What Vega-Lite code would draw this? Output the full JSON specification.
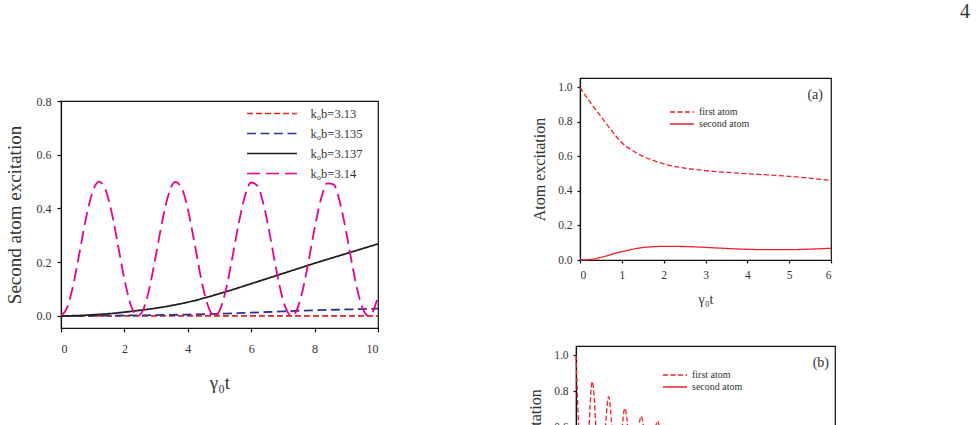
{
  "$schema": "https://vega.github.io/schema/vega-lite/v6.json",
  "autosize": {"type": "none"},
  "padding": {"left": 61, "top": 78, "right": 915, "bottom": 347},
  "title": {"text": "4", "anchor": "end", "frame": "group", "fontSize": 20, "dx": 909, "offset": 55, "color": "#333"},
  "datasets": {
    "second_atom": [
      {"series": "k₀b=3.13", "t": 0, "v": 0},
      {"series": "k₀b=3.13", "t": 2, "v": 0},
      {"series": "k₀b=3.13", "t": 4, "v": 0},
      {"series": "k₀b=3.13", "t": 6, "v": 0},
      {"series": "k₀b=3.13", "t": 8, "v": 0},
      {"series": "k₀b=3.13", "t": 10, "v": 0.0005},
      {"series": "k₀b=3.135", "t": 0, "v": 0},
      {"series": "k₀b=3.135", "t": 1, "v": 0.0005},
      {"series": "k₀b=3.135", "t": 2, "v": 0.0015},
      {"series": "k₀b=3.135", "t": 3, "v": 0.003},
      {"series": "k₀b=3.135", "t": 4, "v": 0.005},
      {"series": "k₀b=3.135", "t": 5, "v": 0.008},
      {"series": "k₀b=3.135", "t": 6, "v": 0.012},
      {"series": "k₀b=3.135", "t": 7, "v": 0.017},
      {"series": "k₀b=3.135", "t": 8, "v": 0.021},
      {"series": "k₀b=3.135", "t": 9, "v": 0.024},
      {"series": "k₀b=3.135", "t": 10, "v": 0.027},
      {"series": "k₀b=3.137", "t": 0, "v": 0},
      {"series": "k₀b=3.137", "t": 0.5, "v": 0.001},
      {"series": "k₀b=3.137", "t": 1, "v": 0.004},
      {"series": "k₀b=3.137", "t": 1.5, "v": 0.008},
      {"series": "k₀b=3.137", "t": 2, "v": 0.014},
      {"series": "k₀b=3.137", "t": 2.5, "v": 0.021},
      {"series": "k₀b=3.137", "t": 3, "v": 0.029},
      {"series": "k₀b=3.137", "t": 3.5, "v": 0.039},
      {"series": "k₀b=3.137", "t": 4, "v": 0.051},
      {"series": "k₀b=3.137", "t": 4.5, "v": 0.066},
      {"series": "k₀b=3.137", "t": 5, "v": 0.083},
      {"series": "k₀b=3.137", "t": 5.5, "v": 0.101},
      {"series": "k₀b=3.137", "t": 6, "v": 0.12},
      {"series": "k₀b=3.137", "t": 6.5, "v": 0.139},
      {"series": "k₀b=3.137", "t": 7, "v": 0.158},
      {"series": "k₀b=3.137", "t": 7.5, "v": 0.177},
      {"series": "k₀b=3.137", "t": 8, "v": 0.196},
      {"series": "k₀b=3.137", "t": 8.5, "v": 0.214},
      {"series": "k₀b=3.137", "t": 9, "v": 0.232},
      {"series": "k₀b=3.137", "t": 9.5, "v": 0.25},
      {"series": "k₀b=3.137", "t": 10, "v": 0.268},
      {"series": "k₀b=3.14", "t": 0, "v": 0},
      {"series": "k₀b=3.14", "t": 0.2, "v": 0.0328},
      {"series": "k₀b=3.14", "t": 0.4, "v": 0.1227},
      {"series": "k₀b=3.14", "t": 0.6, "v": 0.246},
      {"series": "k₀b=3.14", "t": 0.8, "v": 0.3704},
      {"series": "k₀b=3.14", "t": 1.0, "v": 0.4631},
      {"series": "k₀b=3.14", "t": 1.2, "v": 0.4998},
      {"series": "k₀b=3.14", "t": 1.4, "v": 0.4711},
      {"series": "k₀b=3.14", "t": 1.6, "v": 0.3841},
      {"series": "k₀b=3.14", "t": 1.8, "v": 0.2621},
      {"series": "k₀b=3.14", "t": 2.0, "v": 0.1368},
      {"series": "k₀b=3.14", "t": 2.2, "v": 0.0413},
      {"series": "k₀b=3.14", "t": 2.425, "v": 0},
      {"series": "k₀b=3.14", "t": 2.6, "v": 0.0253},
      {"series": "k₀b=3.14", "t": 2.8, "v": 0.1089},
      {"series": "k₀b=3.14", "t": 3.0, "v": 0.2298},
      {"series": "k₀b=3.14", "t": 3.2, "v": 0.3559},
      {"series": "k₀b=3.14", "t": 3.4, "v": 0.4544},
      {"series": "k₀b=3.14", "t": 3.6, "v": 0.4988},
      {"series": "k₀b=3.14", "t": 3.8, "v": 0.4782},
      {"series": "k₀b=3.14", "t": 4.0, "v": 0.3976},
      {"series": "k₀b=3.14", "t": 4.2, "v": 0.2783},
      {"series": "k₀b=3.14", "t": 4.4, "v": 0.1515},
      {"series": "k₀b=3.14", "t": 4.6, "v": 0.0507},
      {"series": "k₀b=3.14", "t": 4.85, "v": 0},
      {"series": "k₀b=3.14", "t": 5.0, "v": 0.0187},
      {"series": "k₀b=3.14", "t": 5.2, "v": 0.0959},
      {"series": "k₀b=3.14", "t": 5.4, "v": 0.2136},
      {"series": "k₀b=3.14", "t": 5.6, "v": 0.341},
      {"series": "k₀b=3.14", "t": 5.8, "v": 0.4444},
      {"series": "k₀b=3.14", "t": 6.0, "v": 0.4967},
      {"series": "k₀b=3.14", "t": 6.2, "v": 0.4843},
      {"series": "k₀b=3.14", "t": 6.4, "v": 0.4103},
      {"series": "k₀b=3.14", "t": 6.6, "v": 0.2944},
      {"series": "k₀b=3.14", "t": 6.8, "v": 0.1666},
      {"series": "k₀b=3.14", "t": 7.0, "v": 0.0608},
      {"series": "k₀b=3.14", "t": 7.275, "v": 0},
      {"series": "k₀b=3.14", "t": 7.4, "v": 0.013},
      {"series": "k₀b=3.14", "t": 7.6, "v": 0.0835},
      {"series": "k₀b=3.14", "t": 7.8, "v": 0.1978},
      {"series": "k₀b=3.14", "t": 8.0, "v": 0.3257},
      {"series": "k₀b=3.14", "t": 8.2, "v": 0.4341},
      {"series": "k₀b=3.14", "t": 8.4, "v": 0.4936},
      {"series": "k₀b=3.14", "t": 8.6, "v": 0.4894},
      {"series": "k₀b=3.14", "t": 8.8, "v": 0.4225},
      {"series": "k₀b=3.14", "t": 9.0, "v": 0.3102},
      {"series": "k₀b=3.14", "t": 9.2, "v": 0.182},
      {"series": "k₀b=3.14", "t": 9.4, "v": 0.0718},
      {"series": "k₀b=3.14", "t": 9.6, "v": 0.0084},
      {"series": "k₀b=3.14", "t": 9.7, "v": 0},
      {"series": "k₀b=3.14", "t": 9.8, "v": 0.0083},
      {"series": "k₀b=3.14", "t": 10, "v": 0.0718}
    ],
    "panel_a": [
      {"atom": "first atom", "t": 0, "v": 1.0},
      {"atom": "first atom", "t": 0.25, "v": 0.912},
      {"atom": "first atom", "t": 0.5, "v": 0.832},
      {"atom": "first atom", "t": 0.75, "v": 0.752},
      {"atom": "first atom", "t": 1, "v": 0.68},
      {"atom": "first atom", "t": 1.25, "v": 0.635},
      {"atom": "first atom", "t": 1.5, "v": 0.602},
      {"atom": "first atom", "t": 1.75, "v": 0.577},
      {"atom": "first atom", "t": 2, "v": 0.557},
      {"atom": "first atom", "t": 2.5, "v": 0.533},
      {"atom": "first atom", "t": 3, "v": 0.518},
      {"atom": "first atom", "t": 3.5, "v": 0.508},
      {"atom": "first atom", "t": 4, "v": 0.5},
      {"atom": "first atom", "t": 4.5, "v": 0.493},
      {"atom": "first atom", "t": 5, "v": 0.485},
      {"atom": "first atom", "t": 5.5, "v": 0.474},
      {"atom": "first atom", "t": 6, "v": 0.462},
      {"atom": "second atom", "t": 0, "v": 0},
      {"atom": "second atom", "t": 0.25, "v": 0.003},
      {"atom": "second atom", "t": 0.5, "v": 0.015},
      {"atom": "second atom", "t": 0.75, "v": 0.032},
      {"atom": "second atom", "t": 1, "v": 0.048},
      {"atom": "second atom", "t": 1.25, "v": 0.062},
      {"atom": "second atom", "t": 1.5, "v": 0.072},
      {"atom": "second atom", "t": 1.75, "v": 0.077},
      {"atom": "second atom", "t": 2, "v": 0.079},
      {"atom": "second atom", "t": 2.5, "v": 0.078},
      {"atom": "second atom", "t": 3, "v": 0.073},
      {"atom": "second atom", "t": 3.5, "v": 0.067},
      {"atom": "second atom", "t": 4, "v": 0.062},
      {"atom": "second atom", "t": 4.5, "v": 0.06},
      {"atom": "second atom", "t": 5, "v": 0.06},
      {"atom": "second atom", "t": 5.5, "v": 0.063},
      {"atom": "second atom", "t": 6, "v": 0.068}
    ],
    "panel_b": [
      {"atom": "first atom", "t": 0, "v": 1.0},
      {"atom": "first atom", "t": 0.19, "v": 0.12},
      {"atom": "first atom", "t": 0.378, "v": 0.852},
      {"atom": "first atom", "t": 0.567, "v": 0.22},
      {"atom": "first atom", "t": 0.755, "v": 0.768},
      {"atom": "first atom", "t": 0.944, "v": 0.29},
      {"atom": "first atom", "t": 1.133, "v": 0.704},
      {"atom": "first atom", "t": 1.32, "v": 0.33},
      {"atom": "first atom", "t": 1.51, "v": 0.66},
      {"atom": "first atom", "t": 1.7, "v": 0.36},
      {"atom": "first atom", "t": 1.888, "v": 0.633},
      {"atom": "first atom", "t": 2.076, "v": 0.38},
      {"atom": "first atom", "t": 2.265, "v": 0.612},
      {"atom": "first atom", "t": 2.454, "v": 0.4},
      {"atom": "first atom", "t": 2.643, "v": 0.596},
      {"atom": "first atom", "t": 2.83, "v": 0.415},
      {"atom": "first atom", "t": 3.02, "v": 0.583},
      {"atom": "first atom", "t": 3.21, "v": 0.427},
      {"atom": "first atom", "t": 3.4, "v": 0.572},
      {"atom": "first atom", "t": 3.587, "v": 0.437},
      {"atom": "first atom", "t": 3.775, "v": 0.563},
      {"atom": "first atom", "t": 3.965, "v": 0.445},
      {"atom": "first atom", "t": 4.153, "v": 0.556},
      {"atom": "first atom", "t": 4.342, "v": 0.452},
      {"atom": "first atom", "t": 4.53, "v": 0.55},
      {"atom": "first atom", "t": 4.72, "v": 0.458},
      {"atom": "first atom", "t": 4.91, "v": 0.545},
      {"atom": "first atom", "t": 5.1, "v": 0.463},
      {"atom": "first atom", "t": 5.285, "v": 0.54},
      {"atom": "first atom", "t": 5.475, "v": 0.467},
      {"atom": "first atom", "t": 5.663, "v": 0.536},
      {"atom": "first atom", "t": 5.852, "v": 0.47},
      {"atom": "first atom", "t": 6, "v": 0.5},
      {"atom": "second atom", "t": 0, "v": 0},
      {"atom": "second atom", "t": 0.19, "v": 0.45},
      {"atom": "second atom", "t": 0.378, "v": 0.02},
      {"atom": "second atom", "t": 0.567, "v": 0.38},
      {"atom": "second atom", "t": 0.755, "v": 0.04},
      {"atom": "second atom", "t": 0.944, "v": 0.32},
      {"atom": "second atom", "t": 1.133, "v": 0.06},
      {"atom": "second atom", "t": 1.32, "v": 0.28},
      {"atom": "second atom", "t": 1.51, "v": 0.08},
      {"atom": "second atom", "t": 1.7, "v": 0.25},
      {"atom": "second atom", "t": 1.888, "v": 0.095},
      {"atom": "second atom", "t": 2.076, "v": 0.23},
      {"atom": "second atom", "t": 2.265, "v": 0.105},
      {"atom": "second atom", "t": 2.454, "v": 0.21},
      {"atom": "second atom", "t": 2.643, "v": 0.115},
      {"atom": "second atom", "t": 2.83, "v": 0.195},
      {"atom": "second atom", "t": 3.02, "v": 0.122},
      {"atom": "second atom", "t": 3.21, "v": 0.185},
      {"atom": "second atom", "t": 3.4, "v": 0.128},
      {"atom": "second atom", "t": 3.587, "v": 0.177},
      {"atom": "second atom", "t": 3.775, "v": 0.133},
      {"atom": "second atom", "t": 3.965, "v": 0.17},
      {"atom": "second atom", "t": 4.153, "v": 0.137},
      {"atom": "second atom", "t": 4.342, "v": 0.165},
      {"atom": "second atom", "t": 4.53, "v": 0.14},
      {"atom": "second atom", "t": 4.72, "v": 0.161},
      {"atom": "second atom", "t": 4.91, "v": 0.143},
      {"atom": "second atom", "t": 5.1, "v": 0.158},
      {"atom": "second atom", "t": 5.285, "v": 0.145},
      {"atom": "second atom", "t": 5.475, "v": 0.156},
      {"atom": "second atom", "t": 5.663, "v": 0.147},
      {"atom": "second atom", "t": 5.852, "v": 0.154},
      {"atom": "second atom", "t": 6, "v": 0.15}
    ]
  },
  "bounds": "flush",
  "spacing": 515,
  "resolve": {"scale": {"color": "independent", "strokeDash": "independent"}, "legend": {"color": "independent", "strokeDash": "independent"}},
  "hconcat": [
    {
      "bounds": "flush",
      "spacing": 0,
      "vconcat": [
        {
          "width": 317,
          "height": 23,
          "view": {"stroke": null},
          "data": {"values": []},
          "mark": {"type": "point", "opacity": 0}
        },
        {
          "width": 317,
          "height": 227,
          "data": {"name": "second_atom"},
          "mark": {"type": "line", "strokeWidth": 1.8, "interpolate": "monotone"},
          "encoding": {
            "x": {
              "field": "t", "type": "quantitative",
              "scale": {"domain": [0, 10], "nice": false},
              "axis": {"values": [0, 2, 4, 6, 8, 10], "title": "γ₀t", "labelFontSize": 12, "titleFontSize": 19, "tickSize": 4, "labelPadding": 11, "titlePadding": 19}
            },
            "y": {
              "field": "v", "type": "quantitative",
              "scale": {"domain": [-0.045, 0.8], "nice": false, "zero": false},
              "axis": {"values": [0, 0.2, 0.4, 0.6, 0.8], "format": ".1f", "title": "Second atom excitation", "labelFontSize": 12, "titleFontSize": 19, "tickSize": 4, "labelPadding": 6, "titlePadding": 12}
            },
            "color": {
              "field": "series", "type": "nominal",
              "scale": {"domain": ["k₀b=3.13", "k₀b=3.135", "k₀b=3.137", "k₀b=3.14"], "range": ["#f0202a", "#2b3592", "#231f20", "#ec008c"]},
              "legend": {"orient": "none", "legendX": 197.5, "legendY": 22, "title": null, "symbolType": "M-2,0H2", "symbolSize": 625, "symbolStrokeWidth": 1.6, "labelFontSize": 12.5, "labelOffset": 25, "rowPadding": 0, "padding": 0}
            },
            "strokeDash": {
              "field": "series", "type": "nominal",
              "scale": {"domain": ["k₀b=3.13", "k₀b=3.135", "k₀b=3.137", "k₀b=3.14"], "range": [[6, 3], [9, 4.5], [1, 0], [13, 6]]},
              "legend": {"orient": "none", "legendX": 197.5, "legendY": 22, "title": null, "symbolType": "M-2,0H2", "symbolSize": 625, "symbolStrokeWidth": 1.6, "labelFontSize": 12.5, "labelOffset": 25, "rowPadding": 0, "padding": 0}
            }
          }
        }
      ]
    },
    {
      "bounds": "flush",
      "spacing": 86,
      "center": true,
      "resolve": {"scale": {"strokeDash": "independent"}, "legend": {"strokeDash": "independent"}},
      "vconcat": [
        {
          "width": 251,
          "height": 182,
          "title": {"text": "(a)", "anchor": "end", "frame": "group", "offset": -24, "dx": -8, "fontSize": 14},
          "data": {"name": "panel_a"},
          "mark": {"type": "line", "strokeWidth": 1.3, "interpolate": "monotone", "color": "#f0202a"},
          "encoding": {
            "x": {
              "field": "t", "type": "quantitative",
              "scale": {"domain": [0, 6], "nice": false},
              "axis": {"values": [0, 1, 2, 3, 4, 5, 6], "title": "γ₀t", "labelFontSize": 11.5, "titleFontSize": 14, "tickSize": 3, "labelPadding": 6, "titlePadding": 12}
            },
            "y": {
              "field": "v", "type": "quantitative",
              "scale": {"domain": [0, 1.055], "nice": false},
              "axis": {"values": [0, 0.2, 0.4, 0.6, 0.8, 1.0], "format": ".1f", "title": "Atom excitation", "labelFontSize": 11.5, "titleFontSize": 16, "tickSize": 3, "labelPadding": 5, "titlePadding": 10}
            },
            "strokeDash": {
              "field": "atom", "type": "nominal",
              "scale": {"domain": ["first atom", "second atom"], "range": [[5, 2.5], [1, 0]]},
              "legend": {"orient": "none", "legendX": 95, "legendY": 27, "title": null, "symbolType": "M-2,0H2", "symbolSize": 144, "symbolStrokeWidth": 1.3, "symbolStrokeColor": "#f0202a", "labelFontSize": 10, "labelOffset": 10, "rowPadding": 0, "padding": 0}
            }
          }
        },
        {
          "width": 259,
          "height": 189,
          "title": {"text": "(b)", "anchor": "end", "frame": "group", "offset": -24, "dx": -6, "fontSize": 14},
          "data": {"name": "panel_b"},
          "mark": {"type": "line", "strokeWidth": 1.3, "interpolate": "monotone", "color": "#f0202a"},
          "encoding": {
            "x": {
              "field": "t", "type": "quantitative",
              "scale": {"domain": [0, 6], "nice": false},
              "axis": {"values": [0, 1, 2, 3, 4, 5, 6], "title": "γ₀t", "labelFontSize": 11.5, "titleFontSize": 14, "tickSize": 3, "labelPadding": 6, "titlePadding": 12}
            },
            "y": {
              "field": "v", "type": "quantitative",
              "scale": {"domain": [0, 1.05], "nice": false},
              "axis": {"values": [0, 0.2, 0.4, 0.6, 0.8, 1.0], "format": ".1f", "title": "Atom excitation", "labelFontSize": 11.5, "titleFontSize": 16, "tickSize": 3, "labelPadding": 5, "titlePadding": 10}
            },
            "strokeDash": {
              "field": "atom", "type": "nominal",
              "scale": {"domain": ["first atom", "second atom"], "range": [[5, 2.5], [1, 0]]},
              "legend": {"orient": "none", "legendX": 92, "legendY": 22, "title": null, "symbolType": "M-2,0H2", "symbolSize": 144, "symbolStrokeWidth": 1.3, "symbolStrokeColor": "#f0202a", "labelFontSize": 10, "labelOffset": 10, "rowPadding": 0, "padding": 0}
            }
          }
        }
      ]
    }
  ],
  "config": {
    "font": "Liberation Serif",
    "view": {"stroke": "#111", "strokeWidth": 1.2},
    "axis": {
      "grid": false,
      "domainColor": "#111", "domainWidth": 1.2,
      "tickColor": "#111", "tickWidth": 1.2,
      "labelColor": "#333", "titleColor": "#333",
      "labelFont": "Liberation Serif", "titleFont": "Liberation Serif",
      "titleFontWeight": "normal"
    },
    "legend": {"labelFont": "Liberation Serif", "labelColor": "#333"},
    "title": {"font": "Liberation Serif", "fontWeight": "normal", "color": "#333"}
  }
}
